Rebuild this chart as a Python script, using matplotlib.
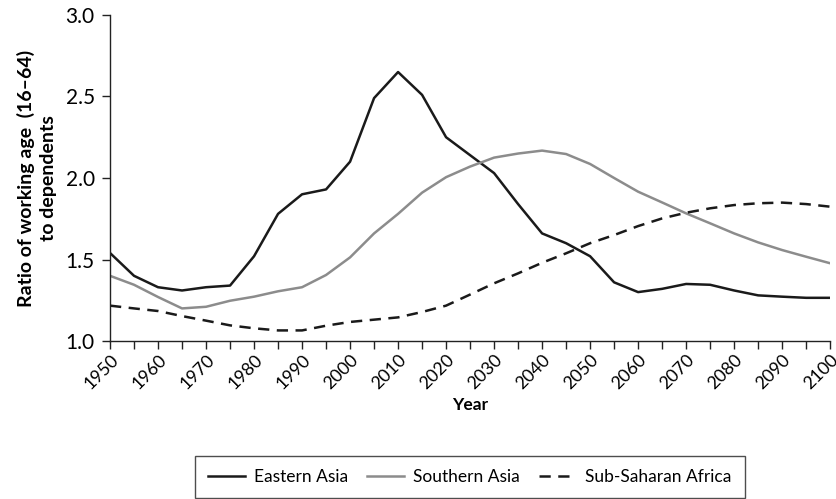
import matplotlib
matplotlib.use("Agg")
import matplotlib.pyplot as plt
import numpy as np

years = list(range(1950, 2101, 5))

eastern_asia = [1.54, 1.40, 1.33, 1.31, 1.33, 1.34, 1.52, 1.78, 1.90, 1.93, 2.10, 2.49,
                2.65, 2.51, 2.25, 2.14, 2.03, 1.84, 1.66, 1.60, 1.52, 1.36, 1.30, 1.32,
                1.35, 1.345, 1.31, 1.28, 1.272, 1.265, 1.265]
southern_asia = [1.40, 1.345, 1.27, 1.20, 1.21, 1.247, 1.272, 1.305, 1.33, 1.405, 1.513, 1.66,
                 1.78, 1.91, 2.005, 2.07, 2.125, 2.15, 2.168, 2.147, 2.086, 2.0, 1.916, 1.85,
                 1.783, 1.722, 1.66, 1.605, 1.558, 1.517, 1.477]
sub_saharan = [1.217, 1.20, 1.184, 1.153, 1.125, 1.096, 1.078, 1.065, 1.065, 1.094, 1.117, 1.131,
               1.145, 1.178, 1.217, 1.285, 1.354, 1.415, 1.48, 1.538, 1.60, 1.65, 1.705, 1.752,
               1.787, 1.814, 1.834, 1.845, 1.849, 1.84, 1.824]

plt.rcParams['font.family'] = ['Lato', 'DejaVu Sans']

fig = plt.figure(figsize=(8.36, 4.99), dpi=100)
ax = fig.add_axes([0.1316, 0.3166, 0.8614, 0.6534])

ax.plot(years, eastern_asia, color='#1a1a1a', lw=1.8, label='Eastern Asia')
ax.plot(years, southern_asia, color='#8c8c8c', lw=1.8, label='Southern Asia')
ax.plot(years, sub_saharan, color='#1a1a1a', lw=1.8, ls=(0, (4.5, 3)), label='Sub-Saharan Africa')

ax.set_xlim(1950, 2100)
ax.set_ylim(1.0, 3.0)
ax.set_xticks(range(1950, 2101, 10))
ax.set_xticks(range(1950, 2101, 5), minor=True)
ax.set_yticks(np.arange(1.0, 3.01, 0.5))
ax.yaxis.set_major_formatter(matplotlib.ticker.FormatStrFormatter('%.1f'))
ax.tick_params(axis='both', which='both', direction='out', length=6, width=1, color='#222222')
ax.tick_params(axis='y', labelsize=15, pad=5)
ax.tick_params(axis='x', labelsize=12.8, pad=2)
for lbl in ax.get_xticklabels():
    lbl.set_rotation(45)
    lbl.set_ha('right')
    lbl.set_rotation_mode('anchor')

for side in ['top', 'right']:
    ax.spines[side].set_visible(False)
for side in ['left', 'bottom']:
    ax.spines[side].set_color('#222222')
    ax.spines[side].set_linewidth(1)

ax.set_xlabel('Year', fontsize=12.5, fontweight='bold', labelpad=3)
ax.set_ylabel('Ratio of working age  (16\u201364)\nto dependents', fontsize=14,
              fontweight='bold', labelpad=6, linespacing=1.35)

leg = fig.legend(loc='lower center', bbox_to_anchor=(0.562, -0.016), ncol=3, frameon=True,
                 fancybox=False, edgecolor='#222222', fontsize=12.5, handlelength=2.1,
                 columnspacing=1.1, handletextpad=0.55, borderpad=0.75)
leg.get_frame().set_linewidth(1)

fig.savefig('out.png', dpi=100)
